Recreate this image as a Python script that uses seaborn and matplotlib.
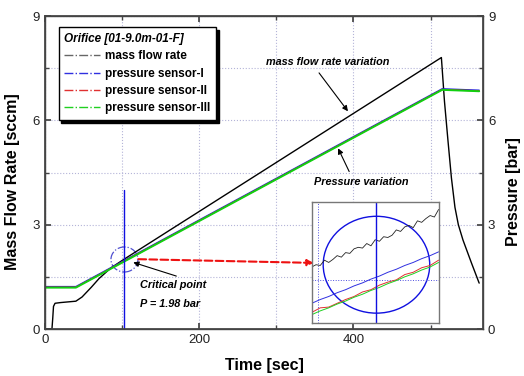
import numpy as np
import pandas as pd
import seaborn as sns
import matplotlib.pyplot as plt
from matplotlib.lines import Line2D
from matplotlib.patches import Ellipse

# main curves
mass_t = [0, 9, 10, 11, 13, 20, 40, 48, 60, 70, 85, 102, 514, 518, 522.5, 527, 531.6, 536, 542, 553, 563]
mass_v = [0, 0, 0.3, 0.65, 0.74, 0.76, 0.8, 0.92, 1.2, 1.45, 1.75, 2.0, 7.81, 6.55, 5.43, 4.35, 3.5, 3.0, 2.56, 1.9, 1.32]

press_t = [0, 40, 515, 563]
press_1 = [1.22, 1.22, 6.91, 6.87]
press_2 = [1.20, 1.20, 6.89, 6.85]
press_3 = [1.19, 1.19, 6.88, 6.84]

crit_t = 102
crit_p = 2.0
crit_line_top = 4.0

# zoomed inset traces
zoom_t = [99.0, 99.2, 99.4, 99.6, 99.8, 100.0, 100.2, 100.4, 100.6, 100.8, 101.0,
          101.2, 101.4, 101.6, 101.8, 102.0, 102.2, 102.4, 102.6, 102.8, 103.0,
          103.2, 103.4, 103.6, 103.8, 104.0, 104.2, 104.4, 104.6, 104.8, 105.0]
zoom_mass = [1.974, 1.977, 1.976, 1.983, 1.980, 1.984, 1.989, 1.987, 1.993, 1.992, 1.998,
             2.000, 1.999, 2.005, 2.002, 2.010, 2.008, 2.014, 2.013, 2.016, 2.023,
             2.021, 2.027, 2.029, 2.026, 2.035, 2.033, 2.038, 2.042, 2.040, 2.050]
zoom_t2 = [99.0, 99.4, 99.8, 100.2, 100.6, 101.0, 101.4, 101.8, 102.2, 102.6, 103.0,
           103.4, 103.8, 104.2, 104.6, 105.0]
zoom_p1 = [1.926, 1.931, 1.935, 1.940, 1.944, 1.949, 1.953, 1.958, 1.962, 1.967, 1.971,
           1.976, 1.980, 1.985, 1.989, 1.994]
zoom_p2 = [1.914, 1.920, 1.921, 1.926, 1.931, 1.935, 1.941, 1.944, 1.950, 1.954, 1.957,
           1.964, 1.967, 1.973, 1.976, 1.983]
zoom_p3 = [1.911, 1.916, 1.920, 1.925, 1.929, 1.934, 1.938, 1.943, 1.947, 1.952, 1.956,
           1.961, 1.965, 1.970, 1.974, 1.980]

sns.set_theme(style="ticks")
plt.rcParams['font.family'] = ['Liberation Sans', 'DejaVu Sans']
plt.rcParams['text.color'] = 'black'
plt.rcParams['axes.labelcolor'] = 'black'

fig = plt.figure(figsize=(5.24, 3.76), dpi=100)
ax = fig.add_axes([0.0859, 0.125, 0.8359, 0.832])

grid_kw = dict(color='#b4b4d8', lw=0.8, ls=':')
ax.set_xlim(0, 568)
ax.set_ylim(0, 9)
ax.set_xticks([0, 200, 400])
ax.set_xticks([100, 300, 500], minor=True)
ax.set_yticks([0, 3, 6, 9])
ax.set_yticks([1.5, 4.5, 7.5], minor=True)
ax.grid(which='both', **grid_kw)
ax.set_axisbelow(True)

sns.lineplot(x=mass_t, y=mass_v, ax=ax, color='black', lw=1, sort=False, estimator=None)
sns.lineplot(x=press_t, y=press_1, ax=ax, color='#2020e0', lw=1, sort=False, estimator=None)
sns.lineplot(x=press_t, y=press_2, ax=ax, color='#e02020', lw=1, sort=False, estimator=None)
sns.lineplot(x=press_t, y=press_3, ax=ax, color='#10d010', lw=1.4, sort=False, estimator=None)

ax.plot([crit_t, crit_t], [0, crit_line_top], color='#1010e0', lw=1)
ax.add_patch(Ellipse((crit_t + 1, crit_p), 35, 0.72, fill=False, ec='#5050d0', lw=0.9, ls='-.'))

ax.annotate('', xy=(352, 1.90), xytext=(117.5, 2.01),
            arrowprops=dict(arrowstyle='-|>', color='#ee1111', lw=1.5, ls='--',
                            mutation_scale=9))

ann_font = dict(fontsize=7.8, fontweight='bold', fontstyle='italic')
ax.annotate('mass flow rate variation', xy=(395, 6.2), xytext=(286, 7.67), va='center',
            arrowprops=dict(arrowstyle='-|>', color='black', lw=0.8, mutation_scale=8,
                            relpos=(0.4, 0.0)), **ann_font)
ax.annotate('Pressure variation', xy=(378.5, 5.27), xytext=(349, 4.22), va='center',
            arrowprops=dict(arrowstyle='-|>', color='black', lw=0.8, mutation_scale=8,
                            relpos=(0.4, 1.0)), **ann_font)
ax.annotate('Critical point', xy=(111, 1.94), xytext=(122.7, 1.26), va='center',
            arrowprops=dict(arrowstyle='-|>', color='black', lw=0.8, mutation_scale=8,
                            relpos=(0.75, 1.0)), **ann_font)
ax.text(122.7, 0.72, 'P = 1.98 bar', va='center', **ann_font)

frame = '#444444'
for s in ax.spines.values():
    s.set_color(frame)
    s.set_linewidth(1)
ax.tick_params(which='both', direction='in', top=True, colors=frame, labelcolor='#222222',
               labelsize=9.5, length=4)
ax.tick_params(which='minor', length=3)
ax.set_xlabel('Time [sec]', fontsize=11.5, fontweight='bold', labelpad=9)
ax.set_ylabel('Mass Flow Rate [sccm]', fontsize=11.5, fontweight='bold')
ax.yaxis.set_label_coords(-0.058, 0.47)

ax2 = ax.twinx()
ax2.set_ylim(0, 9)
ax2.set_yticks([0, 3, 6, 9])
ax2.set_yticks([1.5, 4.5, 7.5], minor=True)
ax2.tick_params(which='both', direction='in', colors=frame, labelcolor='#222222',
                labelsize=9.5, length=4)
ax2.tick_params(which='minor', length=3)
for s in ax2.spines.values():
    s.set_color(frame)
ax2.set_ylabel('Pressure [bar]', fontsize=11.5, fontweight='bold')
ax2.yaxis.set_label_coords(1.052, 0.44)

handles = [Line2D([], [], color='#666666', lw=1, ls='-.'),
           Line2D([], [], color='#3030e0', lw=1, ls='-.'),
           Line2D([], [], color='#e03030', lw=1, ls='-.'),
           Line2D([], [], color='#20d020', lw=1, ls='-.')]
labels = ['mass flow rate', 'pressure sensor-I', 'pressure sensor-II', 'pressure sensor-III']
leg = ax2.legend(handles, labels, title='Orifice [01-9.0m-01-F]', loc='upper left',
                 bbox_to_anchor=(0.031, 0.965), borderaxespad=0, fancybox=False,
                 shadow={'color': 'black', 'alpha': 1}, framealpha=1, edgecolor='black',
                 handlelength=3.0, handletextpad=0.4, labelspacing=0.45,
                 prop={'weight': 'bold', 'size': 8.5}, borderpad=0.5)
leg.get_title().set_fontweight('bold')
leg.get_title().set_fontstyle('italic')
leg.get_title().set_fontsize(8.5)
leg._legend_box.align = 'left'
leg.get_frame().set_linewidth(1)

# inset zoom
ins = fig.add_axes([0.595, 0.141, 0.242, 0.322])
ins.set_xlim(99, 105)
ins.set_ylim(1.90, 2.06)
ins.set_xticks([])
ins.set_yticks([])
ins.axvline(99.28, color='#5050e0', lw=0.7, ls=':')
ins.axhline(1.957, color='#5050e0', lw=0.7, ls=':')
sns.lineplot(x=zoom_t, y=zoom_mass, ax=ins, color='#222222', lw=0.6, sort=False, estimator=None)
sns.lineplot(x=zoom_t2, y=zoom_p1, ax=ins, color='#3030e0', lw=0.7, sort=False, estimator=None)
sns.lineplot(x=zoom_t2, y=zoom_p2, ax=ins, color='#e03030', lw=0.7, sort=False, estimator=None)
sns.lineplot(x=zoom_t2, y=zoom_p3, ax=ins, color='#20d020', lw=0.7, sort=False, estimator=None)
ins.axvline(102.06, color='#1010e0', lw=1)
ins.add_patch(Ellipse((102.06, 1.977), 5.04, 0.128, fill=False, ec='#1010e0', lw=1))
for s in ins.spines.values():
    s.set_color('#777777')
    s.set_linewidth(1)

fig.savefig('out.png', dpi=100)
